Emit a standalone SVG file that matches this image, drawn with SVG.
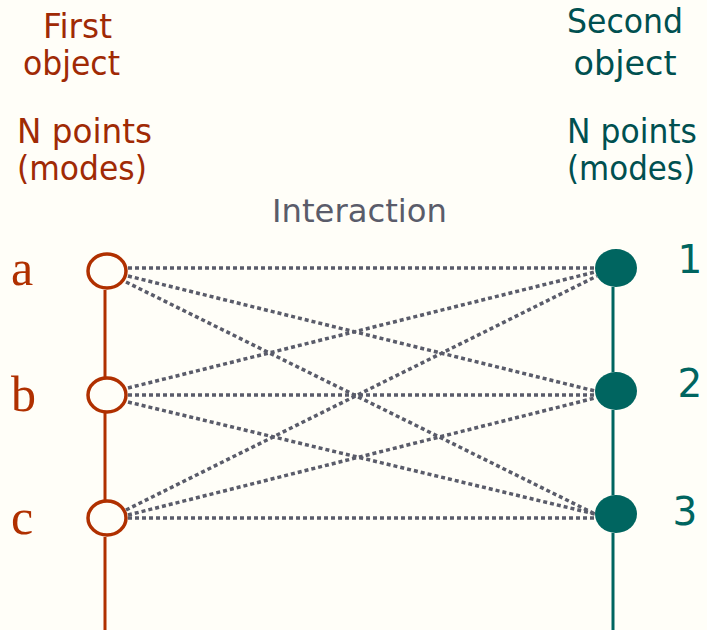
<svg xmlns="http://www.w3.org/2000/svg" width="707" height="630" viewBox="0 0 707 630">
<style>
.bg{fill:#FFFEF8}
.red{fill:#A02A05;font-family:"DejaVu Sans","Liberation Sans",sans-serif;font-size:34px}
.teal{fill:#005050;font-family:"DejaVu Sans","Liberation Sans",sans-serif;font-size:34px}
.ser{fill:#B03000;font-family:"Liberation Serif","DejaVu Serif",serif;font-size:50px}
.num{fill:#006560;font-family:"DejaVu Sans","Liberation Sans",sans-serif;font-size:39px}
.gray{fill:#5A5C6A;font-family:"DejaVu Sans","Liberation Sans",sans-serif;font-size:32px}
.lv{stroke:#B03000;stroke-width:3;fill:none}
.rv{stroke:#006560;stroke-width:3;fill:none}
.lc{stroke:#B03000;stroke-width:3.5;fill:#FFFEF8}
.rc{fill:#006560}
.dot{stroke:#5A5C6A;stroke-width:3.5;stroke-dasharray:4,3;fill:none}
</style>
<rect class="bg" x="0" y="0" width="707" height="630"/>
<g id="labels">
<text class="red" x="77.5" y="38" text-anchor="middle" textLength="69" lengthAdjust="spacingAndGlyphs">First</text>
<text class="red" x="71.5" y="75" text-anchor="middle" textLength="97" lengthAdjust="spacingAndGlyphs">object</text>
<text class="red" x="84.5" y="143" text-anchor="middle" textLength="135" lengthAdjust="spacingAndGlyphs">N points</text>
<text class="red" x="82" y="180" text-anchor="middle" textLength="130" lengthAdjust="spacingAndGlyphs">(modes)</text>
<text class="teal" x="625" y="33" text-anchor="middle" textLength="116" lengthAdjust="spacingAndGlyphs">Second</text>
<text class="teal" x="625" y="75" text-anchor="middle" textLength="103" lengthAdjust="spacingAndGlyphs">object</text>
<text class="teal" x="632" y="143" text-anchor="middle" textLength="130" lengthAdjust="spacingAndGlyphs">N points</text>
<text class="teal" x="631" y="180" text-anchor="middle" textLength="128" lengthAdjust="spacingAndGlyphs">(modes)</text>
<text class="gray" x="359.5" y="222" text-anchor="middle" textLength="175" lengthAdjust="spacingAndGlyphs">Interaction</text>
</g>
<g id="connectors">
<line class="lv" x1="105" y1="290" x2="105" y2="377"/>
<line class="lv" x1="105" y1="413" x2="105" y2="500"/>
<line class="lv" x1="105" y1="537" x2="105" y2="630"/>
<line class="rv" x1="613" y1="287" x2="613" y2="372"/>
<line class="rv" x1="613" y1="410" x2="613" y2="495"/>
<line class="rv" x1="613" y1="533" x2="613" y2="630"/>
<line class="dot" x1="128" y1="268" x2="595" y2="268"/>
<line class="dot" x1="128" y1="276" x2="595" y2="391"/>
<line class="dot" x1="126" y1="282" x2="595" y2="514"/>
<line class="dot" x1="128" y1="388" x2="595" y2="272"/>
<line class="dot" x1="128" y1="395" x2="595" y2="395"/>
<line class="dot" x1="128" y1="402" x2="595" y2="514"/>
<line class="dot" x1="126" y1="510" x2="597" y2="276"/>
<line class="dot" x1="128" y1="515" x2="595" y2="398"/>
<line class="dot" x1="128" y1="518" x2="595" y2="518"/>
</g>
<g id="node-a"><ellipse class="lc" cx="107" cy="271" rx="19" ry="17"/><text class="ser" x="11" y="285">a</text></g>
<g id="node-b"><ellipse class="lc" cx="107" cy="395" rx="19" ry="17"/><text class="ser" x="11" y="411">b</text></g>
<g id="node-c"><ellipse class="lc" cx="107" cy="518" rx="19" ry="17"/><text class="ser" x="11" y="534">c</text></g>
<g id="node-1"><ellipse class="rc" cx="616" cy="268" rx="21" ry="19"/><text class="num" x="690" y="273" text-anchor="middle">1</text></g>
<g id="node-2"><ellipse class="rc" cx="616" cy="391" rx="21" ry="19"/><text class="num" x="690" y="397" text-anchor="middle">2</text></g>
<g id="node-3"><ellipse class="rc" cx="616" cy="514" rx="21" ry="19"/><text class="num" x="685" y="525" text-anchor="middle">3</text></g>
</svg>
